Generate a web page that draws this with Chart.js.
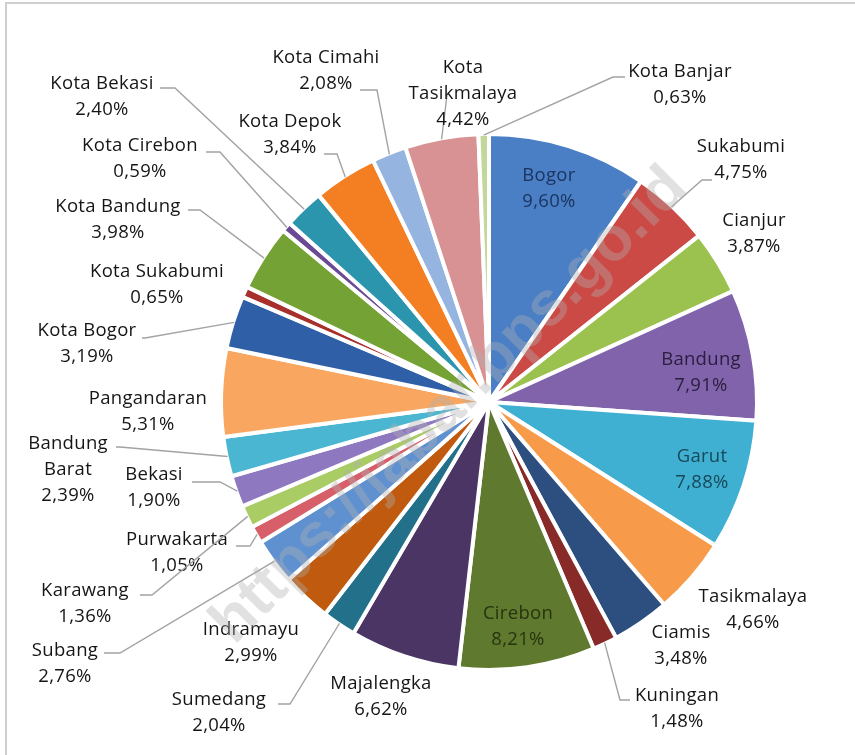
<!DOCTYPE html>
<html>
<head>
<meta charset="utf-8">
<script src="https://cdn.jsdelivr.net/npm/chart.js@4.4.1/dist/chart.umd.min.js"></script>
<style>
  html, body { margin: 0; padding: 0; background: #fff; }
  #wrap { width: 855px; height: 755px; }
</style>
</head>
<body>
<div id="wrap"><canvas id="pieChart" width="855" height="755"></canvas></div>
<script>
// population share by kabupaten/kota, clockwise from 12 o'clock
const regions = [
    'Bogor', 'Sukabumi', 'Cianjur', 'Bandung', 'Garut', 'Tasikmalaya', 'Ciamis',
    'Kuningan', 'Cirebon', 'Majalengka', 'Sumedang', 'Indramayu', 'Subang',
    'Purwakarta', 'Karawang', 'Bekasi', 'Bandung Barat', 'Pangandaran',
    'Kota Bogor', 'Kota Sukabumi', 'Kota Bandung', 'Kota Cirebon', 'Kota Bekasi',
    'Kota Depok', 'Kota Cimahi', 'Kota Tasikmalaya', 'Kota Banjar'
];
const shares = [
    9.60, 4.75, 3.87, 7.91, 7.88, 4.66, 3.48,
    1.48, 8.21, 6.62, 2.04, 2.99, 2.76,
    1.05, 1.36, 1.90, 2.39, 5.31,
    3.19, 0.65, 3.98, 0.59, 2.40,
    3.84, 2.08, 4.42, 0.63
];
const sliceColors = [
    '#4a7fc6', '#cc4a46', '#9bc24f', '#8063ab', '#40b0d2', '#f79a4a', '#2c4f80',
    '#882a28', '#5f7a2e', '#4a3564', '#23708a', '#bf5a0e', '#5f91d0',
    '#d65f69', '#a9cc64', '#8e78bf', '#4ab6d2', '#f8a660',
    '#2f5fa6', '#a8302c', '#74a234', '#6a4a94', '#2c95ae',
    '#f47f22', '#95b4e0', '#d99294', '#c3d69b'
];

// label placement: x,y = centre of first text line, leader = points from label side toward slice
const labelLayout = [
    { x: 549, y: 176, inside: '#1c3560' },
    { x: 741, y: 147, leader: [[712, 180], [702, 180]] },
    { x: 754, y: 221 },
    { x: 701, y: 360, inside: '#2a1d3e' },
    { x: 702, y: 457, inside: '#17495a' },
    { x: 753, y: 597 },
    { x: 681, y: 633 },
    { x: 677, y: 696, leader: [[630, 700], [620, 700]] },
    { x: 518, y: 614, inside: '#27330f' },
    { x: 381, y: 684 },
    { x: 219, y: 700, leader: [[278, 704], [290, 704]] },
    { x: 251, y: 630 },
    { x: 65, y: 651, leader: [[104, 653], [120, 653]] },
    { x: 177, y: 540, leader: [[236, 546], [250, 546]] },
    { x: 85, y: 591, leader: [[140, 595], [152, 595]] },
    { x: 154, y: 475, leader: [[192, 482], [220, 482]] },
    { x: 68, y: 444, leader: [[116, 447], [120, 447]], wrap: ['Bandung', 'Barat'] },
    { x: 148, y: 399 },
    { x: 87, y: 331, leader: [[142, 338], [145, 338]] },
    { x: 157, y: 272 },
    { x: 118, y: 207, leader: [[188, 210], [200, 210]] },
    { x: 140, y: 146, leader: [[206, 152], [220, 152]] },
    { x: 102, y: 84, leader: [[160, 88], [175, 88]] },
    { x: 290, y: 122, leader: [[324, 154], [337, 154]] },
    { x: 326, y: 58, leader: [[360, 90], [377, 90]] },
    { x: 463, y: 68, leader: [[447, 95], [447, 95]], wrap: ['Kota', 'Tasikmalaya'] },
    { x: 680, y: 72, leader: [[625, 77], [613, 77]] }
];

const LABEL_FONT = '18.5px "Open Sans", "DejaVu Sans", sans-serif';
const LINE_H = 26;

function fmtPct(v) {
    return v.toFixed(2).replace('.', ',') + '%';
}

const framePlugin = {
    id: 'frame',
    beforeDraw(chart) {
        const ctx = chart.ctx;
        ctx.save();
        ctx.fillStyle = '#fff';
        ctx.fillRect(0, 0, chart.width, chart.height);
        ctx.strokeStyle = '#cfcfcf';
        ctx.lineWidth = 2;
        ctx.beginPath();
        ctx.moveTo(6, chart.height);
        ctx.lineTo(6, 3);
        ctx.lineTo(chart.width, 3);
        ctx.stroke();
        ctx.restore();
    }
};

const pieLabels = {
    id: 'pieLabels',
    afterDatasetsDraw(chart) {
        const ctx = chart.ctx;
        const arcs = chart.getDatasetMeta(0).data;
        ctx.save();
        ctx.font = LABEL_FONT;
        ctx.letterSpacing = '0.3px';
        ctx.textAlign = 'center';
        ctx.textBaseline = 'middle';

        arcs.forEach((arc, i) => {
            const lay = labelLayout[i];
            if (!lay) return;
            const mid = (arc.startAngle + arc.endAngle) / 2;
            const r = arc.outerRadius - 1;
            const sx = arc.x + Math.cos(mid) * r;
            const sy = arc.y + Math.sin(mid) * r;

            if (lay.leader) {
                ctx.strokeStyle = '#a3a3a3';
                ctx.lineWidth = 1.4;
                ctx.beginPath();
                ctx.moveTo(lay.leader[0][0], lay.leader[0][1]);
                ctx.lineTo(lay.leader[1][0], lay.leader[1][1]);
                ctx.lineTo(sx, sy);
                ctx.stroke();
            }

            const lines = (lay.wrap || [regions[i]]).concat([fmtPct(shares[i])]);
            ctx.fillStyle = lay.inside || '#151515';
            lines.forEach((t, k) => ctx.fillText(t, lay.x, lay.y + k * LINE_H));
        });
        ctx.restore();
    },
    afterDraw(chart) {
        // faint site watermark across the pie
        const ctx = chart.ctx;
        ctx.save();
        ctx.translate(450, 406);
        ctx.rotate(-Math.PI / 4);
        ctx.font = 'bold 62px "Liberation Sans", Arial, sans-serif';
        ctx.textAlign = 'center';
        ctx.textBaseline = 'middle';
        ctx.fillStyle = 'rgba(175,175,175,0.38)';
        ctx.fillText('https://jabar.bps.go.id', 0, 0);
        ctx.restore();
    }
};

const ctx = document.getElementById('pieChart').getContext('2d');
const chart = new Chart(ctx, {
    type: 'pie',
    data: {
        labels: regions,
        datasets: [{
            data: shares,
            backgroundColor: sliceColors,
            borderColor: '#ffffff',
            borderWidth: 4
        }]
    },
    options: {
        responsive: false,
        animation: false,
        devicePixelRatio: 1,
        radius: 268,
        layout: { padding: { left: 214, right: 91, top: 127, bottom: 78 } },
        plugins: {
            legend: { display: false },
            tooltip: { enabled: false }
        }
    },
    plugins: [framePlugin, pieLabels]
});
</script>
</body>
</html>
